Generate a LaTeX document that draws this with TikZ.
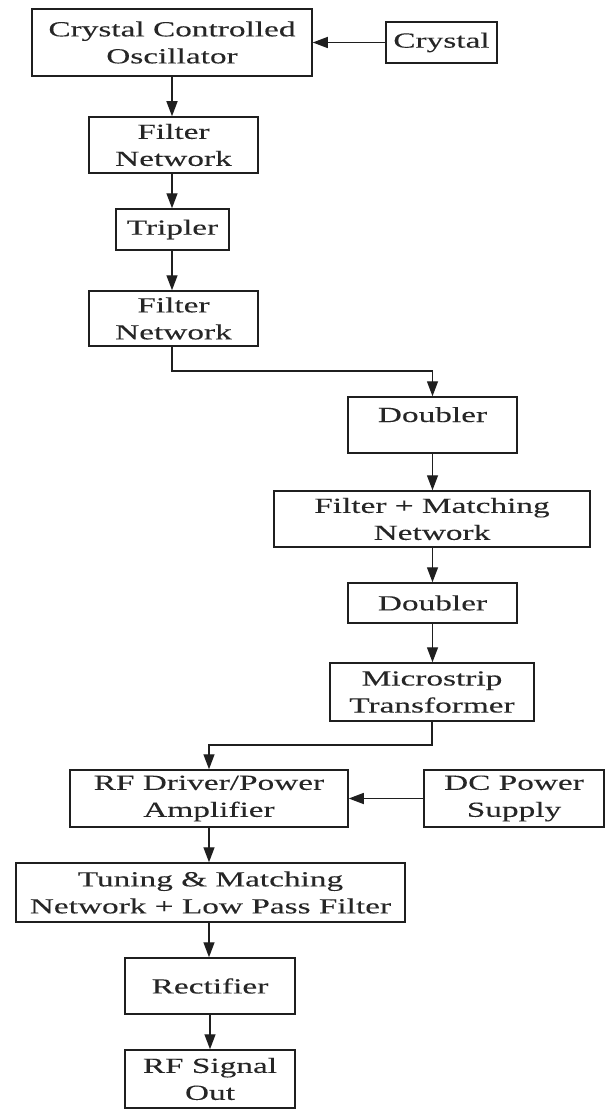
\documentclass[tikz,border=0pt]{standalone}
\usepackage{fontspec}
\setmainfont{Liberation Serif}[FakeStretch=1.55,FakeBold=0.12]
\usetikzlibrary{arrows.meta}
\begin{document}
\begin{tikzpicture}[x=1pt,y=-1pt,
  blk/.style={draw=black!88, line width=1.5pt, align=center, inner sep=0pt,
    font=\fontsize{21.5}{27}\selectfont, text=black!85},
  arr/.style={draw=black!88, line width=1.4pt, -{Triangle[length=15pt,width=11pt]}}]
\useasboundingbox (0,0) rectangle (607,1110);
\fill[white] (0,0) rectangle (607,1110);

% oscillator chain
\node[blk, minimum width=280pt, minimum height=67pt] (cco) at (172,42.5) {Crystal Controlled\\Oscillator};
\node[blk, minimum width=111pt, minimum height=41pt] (xtal) at (441.5,42.5) {Crystal};
\node[blk, minimum width=169pt, minimum height=56pt] (fn1) at (173.5,145) {Filter\\Network};
\node[blk, minimum width=113pt, minimum height=41pt] (trip) at (172.5,229.5) {Tripler};
\node[blk, minimum width=169pt, minimum height=55pt] (fn2) at (173.5,318.5) {Filter\\Network};

% multiplier chain
\node[blk, minimum width=169pt, minimum height=56pt, text height=14pt, text depth=20pt] (dbl1) at (432.5,425) {Doubler};
\node[blk, minimum width=316pt, minimum height=56pt] (fm) at (432,519) {Filter + Matching\\Network};
\node[blk, minimum width=169pt, minimum height=40pt] (dbl2) at (432.5,603) {Doubler};
\node[blk, minimum width=204pt, minimum height=58pt] (micro) at (432,692) {Microstrip\\Transformer};

% power stage and output
\node[blk, minimum width=278pt, minimum height=57pt] (rfd) at (209,798.5) {RF Driver/Power\\Amplifier};
\node[blk, minimum width=180pt, minimum height=57pt] (dc) at (514,798.5) {DC Power\\Supply};
\node[blk, minimum width=389pt, minimum height=59pt] (tune) at (210.5,892.5) {Tuning \& Matching\\Network + Low Pass Filter};
\node[blk, minimum width=170pt, minimum height=56pt] (rect) at (210,986) {Rectifier};
\node[blk, minimum width=170pt, minimum height=58pt] (out) at (210,1079) {RF Signal\\Out};

% bend heights of the two offset connectors
\coordinate (k1) at (0,371);
\coordinate (k2) at (0,745);

\draw[arr] (xtal.west) -- (cco.east);
\draw[arr] (cco.south) -- (cco.south |- fn1.north);
\draw[arr] (cco.south |- fn1.south) -- (cco.south |- trip.north);
\draw[arr] (cco.south |- trip.south) -- (cco.south |- fn2.north);
\draw[arr] (cco.south |- fn2.south) |- (k1 -| dbl1.north) -- (dbl1.north);
\draw[arr] (dbl1.south) -- (dbl1.south |- fm.north);
\draw[arr] (dbl1.south |- fm.south) -- (dbl1.south |- dbl2.north);
\draw[arr] (dbl2.south) -- (dbl2.south |- micro.north);
\draw[arr] (micro.south) |- (k2 -| rfd.north) -- (rfd.north);
\draw[arr] (dc.west) -- (rfd.east);
\draw[arr] (rfd.south) -- (rfd.south |- tune.north);
\draw[arr] (rfd.south |- tune.south) -- (rfd.south |- rect.north);
\draw[arr] (rect.south) -- (rect.south |- out.north);
\end{tikzpicture}
\end{document}
